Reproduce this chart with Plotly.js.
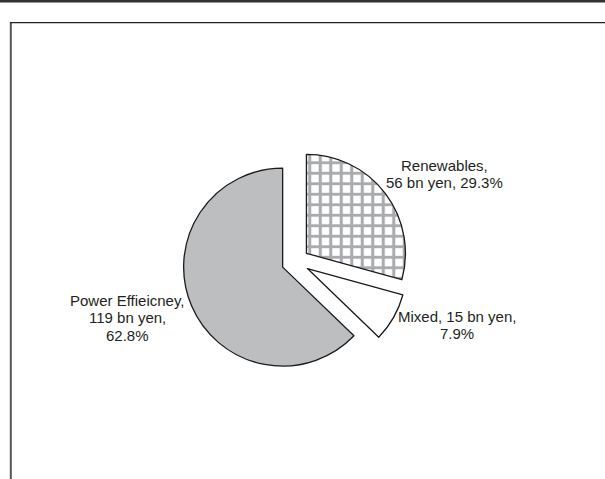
<!DOCTYPE html>
<html>
<head>
<meta charset="utf-8">
<script src="https://cdn.plot.ly/plotly-3.0.1.min.js"></script>
<style>
  html, body { margin: 0; padding: 0; background: #ffffff; }
  #chart { width: 605px; height: 479px; }
</style>
</head>
<body>
<div id="chart"></div>
<script>
// Green investment breakdown
const categories = ['Renewables', 'Mixed', 'Power Effieicney'];
const amountsBnYen = [56, 15, 119];
const sharesPct = [29.3, 7.9, 62.8];

// How each label's pieces (name, amount, share) are wrapped onto lines
const labelWrap = [[[0], [1, 2]], [[0, 1], [2]], [[0], [1], [2]]];
// Label block centres in pixels (x, y)
const labelCentres = [[444, 174], [457, 325], [127, 317.5]];

const W = 605, H = 479;
const LINE_H = 17.5;

// Pie geometry (pixels)
const cx = 295.4, cy = 261.7, rOuter = 99 * 1.14;

const pie = {
  type: 'pie',
  labels: categories,
  values: sharesPct,
  sort: false,
  direction: 'clockwise',
  rotation: 0,
  pull: [0.14, 0.14, 0.14],
  textinfo: 'none',
  hoverinfo: 'label+value',
  domain: {
    x: [(cx - rOuter) / W, (cx + rOuter) / W],
    y: [1 - (cy + rOuter) / H, 1 - (cy - rOuter) / H]
  },
  marker: {
    colors: ['#ffffff', '#ffffff', '#bdbec0'],
    line: { color: '#1a1a1a', width: 1.3 },
    pattern: {
      shape: ['+', '', ''],
      fgcolor: '#a9abae',
      bgcolor: '#ffffff',
      size: 10.5,
      solidity: 0.5,
      fillmode: 'replace'
    }
  }
};

const annotations = [];
categories.forEach((name, i) => {
  const pieces = [name + ',', amountsBnYen[i] + ' bn yen,', sharesPct[i].toFixed(1) + '%'];
  const lines = labelWrap[i].map(g => g.map(k => pieces[k]).join(' '));
  const [lx, ly] = labelCentres[i];
  const top = ly - (lines.length - 1) * LINE_H / 2;
  lines.forEach((t, j) => {
    annotations.push({
      xref: 'paper', yref: 'paper',
      x: lx / W, y: 1 - (top + j * LINE_H) / H,
      xanchor: 'center', yanchor: 'middle',
      text: t, showarrow: false,
      font: { family: 'Liberation Sans, Arial, sans-serif', size: 15, color: '#231f20' }
    });
  });
});

const px = v => v / W, py = v => 1 - v / H;
const shapes = [
  // dark strip along the top edge
  { type: 'rect', xref: 'paper', yref: 'paper', x0: 0, x1: 1, y0: py(2.6), y1: 1,
    fillcolor: '#333333', line: { width: 0 } },
  // frame: left and top border
  { type: 'line', xref: 'paper', yref: 'paper', x0: px(10.8), x1: px(10.8), y0: 0, y1: py(22.5),
    line: { color: '#555555', width: 2 } },
  { type: 'line', xref: 'paper', yref: 'paper', x0: px(10), x1: 1, y0: py(22.6), y1: py(22.6),
    line: { color: '#222222', width: 1.3 } }
];

const layout = {
  width: W, height: H,
  margin: { l: 0, r: 0, t: 0, b: 0 },
  paper_bgcolor: '#ffffff',
  showlegend: false,
  annotations: annotations,
  shapes: shapes
};

Plotly.newPlot('chart', [pie], layout, { displayModeBar: false, staticPlot: true });
</script>
</body>
</html>
